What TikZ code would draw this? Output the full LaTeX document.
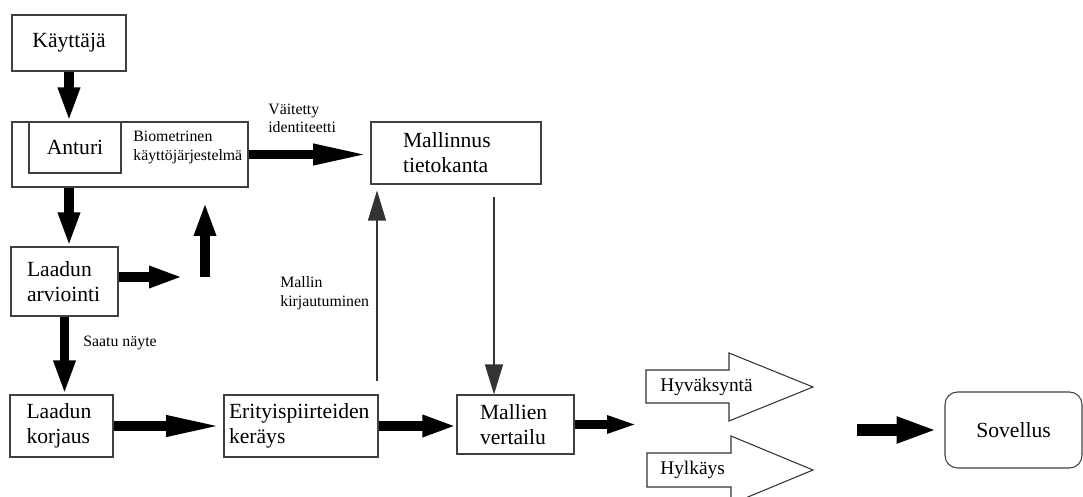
\documentclass[tikz,border=0pt]{standalone}
\usepackage{fontspec}
\setmainfont{Liberation Serif}
\usetikzlibrary{arrows.meta}

\newcommand{\isofontti}{\fontsize{12.3}{14.2}\selectfont}
\newcommand{\pienifontti}{\fontsize{9}{10.5}\selectfont}

\begin{document}
\begin{tikzpicture}[x=0.02cm, y=-0.02cm,
    laatikko/.style={draw=black!75, line width=0.6pt, align=left, inner ysep=2pt, font=\isofontti},
    pieni/.style={font=\pienifontti, align=left, anchor=west, inner sep=0pt},
    nuoliteksti/.style={font=\fontsize{11}{13}\selectfont, anchor=west, inner sep=0pt},
    paksu/.style={line width=5.4pt, -{Triangle[length=0.68cm, width=0.4cm]}},
    pitka/.style={line width=5.4pt, -{Triangle[length=1.15cm, width=0.38cm]}},
    ohut/.style={line width=0.6pt, draw=black!80, -{Triangle[length=0.6cm, width=0.36cm]}}]

    \useasboundingbox (0,0) rectangle (1083,497);

    % LEFT PART

    % Boxes
    \node[laatikko, minimum width=2.28cm, minimum height=1.12cm, align=center] (kayttaja) at (69,43) {Käyttäjä};
    \node[laatikko, minimum width=4.72cm, minimum height=1.3cm] (biosys) at (130,154.5) {};
    \node[laatikko, minimum width=1.84cm, minimum height=1.02cm, align=center] (anturi) at (75,147.5) {Anturi};
    \node[pieni] (biotxt) at (133,147.5) {Biometrinen\\käyttöjärjestelmä};
    \node[laatikko, text width=1.5cm, inner xsep=0.32cm, minimum height=1.38cm] (arviointi) at (64.5,281.5) {Laadun\\arviointi};
    \node[laatikko, text width=1.4cm, inner xsep=0.33cm, minimum height=1.24cm] (korjaus) at (61.5,426) {Laadun\\korjaus};
    \node[laatikko, text width=2.88cm, inner xsep=0.1cm, minimum height=1.24cm] (erityis) at (301,426) {Erityispiirteiden\\keräys};

    % Thick arrows
    \draw[paksu] (kayttaja.south) -- (kayttaja.south |- anturi.north);
    \draw[paksu] (kayttaja.south |- biosys.south) -- (kayttaja.south |- arviointi.north);
    \draw[paksu] (arviointi.south) -- (arviointi.south |- korjaus.north);
    \node[pieni] (saatu) at (83,343) {Saatu näyte};

    \coordinate (oikealle) at (183,277);
    \draw[paksu] (arviointi.east |- oikealle) -- (oikealle);
    \coordinate (ylos1) at (205,277);
    \coordinate (ylos2) at (205,202);
    \draw[paksu] (ylos1) -- (ylos2);

    \draw[pitka] (korjaus.east) -- (erityis.west);

    % MIDDLE PART

    \node[laatikko, text width=2.12cm, inner xsep=0.64cm, minimum height=1.24cm] (mallinnus) at (456,153) {Mallinnus\\tietokanta};
    \node[laatikko, text width=1.42cm, inner xsep=0.46cm, minimum height=1.18cm] (mallien) at (515.5,424.5) {Mallien\\vertailu};

    \draw[pitka] (biosys.east) -- (biosys.east -| mallinnus.west);
    \node[pieni] (vaitetty) at (268,118.5) {Väitetty\\identiteetti};

    % Thin arrows
    \coordinate (kirj) at (377,381);
    \draw[ohut, shorten >=0.12cm] (kirj) -- (kirj |- mallinnus.south);
    \node[pieni] (mallin) at (280,293) {Mallin\\kirjautuminen};
    \coordinate (alas) at (494,197);
    \draw[ohut] (alas) -- (alas |- mallien.north);

    \draw[paksu] (erityis.east) -- (erityis.east -| mallien.west);
    \coordinate (jako) at (638,426);
    \draw[line width=5.4pt, -{Triangle[length=0.62cm, width=0.32cm]}] (mallien.east) -- (mallien.east -| jako);

    % RIGHT PART

    % Block arrows
    \draw[draw=black!80, line width=0.6pt] (646,370) -- (729,370) -- (729,353) -- (813,387) -- (729,421) -- (729,403) -- (646,403) -- cycle;
    \node[nuoliteksti] (hyvaksynta) at (660,387) {Hyväksyntä};
    \draw[draw=black!80, line width=0.6pt] (647,453) -- (731,453) -- (731,436) -- (813,470) -- (731,504) -- (731,487) -- (647,487) -- cycle;
    \node[nuoliteksti] (hylkays) at (660,470) {Hylkäys};

    \node[laatikko, rounded corners=0.25cm, minimum width=2.74cm, minimum height=1.52cm, align=center] (sovellus) at (1013.5,430) {Sovellus};
    \coordinate (sov) at (857,430);
    \draw[line width=7pt, shorten >=0.14cm, -{Triangle[length=0.82cm, width=0.48cm]}] (sov) -- (sovellus.west);

\end{tikzpicture}
\end{document}
